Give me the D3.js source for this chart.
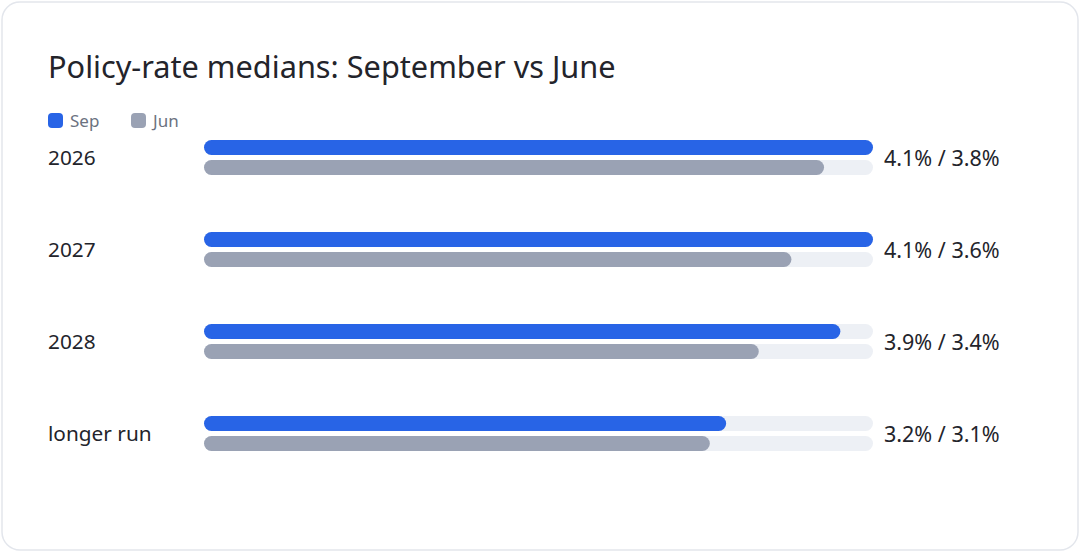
<!DOCTYPE html>
<html>
<head>
<meta charset="utf-8">
<script src="https://cdn.jsdelivr.net/npm/d3@7"></script>
<style>
  html, body { margin: 0; padding: 0; background: #fff; }
  svg { display: block; font-family: "Noto Sans", "Open Sans", sans-serif; }
</style>
</head>
<body>
<div id="chart"></div>
<script>
// data
const categories = ["2026", "2027", "2028", "longer run"];
const sepValues = [4.1, 4.1, 3.9, 3.2];
const junValues = [3.8, 3.6, 3.4, 3.1];
const seriesNames = ["Sep", "Jun"];

const width = 1080, height = 552;
const colors = { Sep: "#2864e6", Jun: "#9aa2b4" };

const svg = d3.select("#chart").append("svg")
  .attr("width", width)
  .attr("height", height);

// card
svg.append("rect")
  .attr("x", 2).attr("y", 2)
  .attr("width", width - 4).attr("height", height - 4)
  .attr("rx", 18)
  .attr("fill", "#fff")
  .attr("stroke", "#e3e6ec")
  .attr("stroke-width", 1.5);

// title
svg.append("text")
  .attr("x", 48).attr("y", 78)
  .attr("font-size", 30.7)
  .attr("fill", "#23242b")
  .text("Policy-rate medians: September vs June");

// legend
seriesNames.forEach((s, i) => {
  const g = svg.append("g").attr("transform", `translate(${48 + i * 83},113)`);
  g.append("rect")
    .attr("width", 15).attr("height", 15).attr("rx", 4)
    .attr("fill", colors[s]);
  g.append("text")
    .attr("x", 22).attr("y", 14)
    .attr("font-size", 17)
    .attr("fill", "#6b7280")
    .text(s);
});

// scales
const x = d3.scaleLinear()
  .domain([0, d3.max(sepValues.concat(junValues))])
  .range([204, 873]);

const y = d3.scaleBand()
  .domain(categories)
  .range([111.5, 479.5]);

const barH = 15, gap = 5;

const rows = svg.append("g").selectAll("g")
  .data(categories)
  .join("g")
  .attr("transform", d => `translate(0,${y(d) + y.bandwidth() / 2})`);

rows.append("text")
  .attr("x", 48).attr("y", 0).attr("dy", "0.38em")
  .attr("font-size", 20.8)
  .attr("fill", "#23242b")
  .text(d => d);

// tracks
[-(barH + gap / 2), gap / 2].forEach(off => {
  rows.append("rect")
    .attr("x", x(0)).attr("y", off)
    .attr("width", x.range()[1] - x(0)).attr("height", barH)
    .attr("rx", barH / 2)
    .attr("fill", "#edf0f5");
});

rows.append("rect")
  .attr("x", x(0)).attr("y", -(barH + gap / 2))
  .attr("width", (d, i) => x(sepValues[i]) - x(0)).attr("height", barH)
  .attr("rx", barH / 2)
  .attr("fill", colors.Sep);

rows.append("rect")
  .attr("x", x(0)).attr("y", gap / 2)
  .attr("width", (d, i) => x(junValues[i]) - x(0)).attr("height", barH)
  .attr("rx", barH / 2)
  .attr("fill", colors.Jun);

rows.append("text")
  .attr("x", 884).attr("y", 0).attr("dy", "0.38em")
  .attr("font-size", 21.5)
  .attr("fill", "#23242b")
  .text((d, i) => `${sepValues[i].toFixed(1)}% / ${junValues[i].toFixed(1)}%`);
</script>
</body>
</html>
